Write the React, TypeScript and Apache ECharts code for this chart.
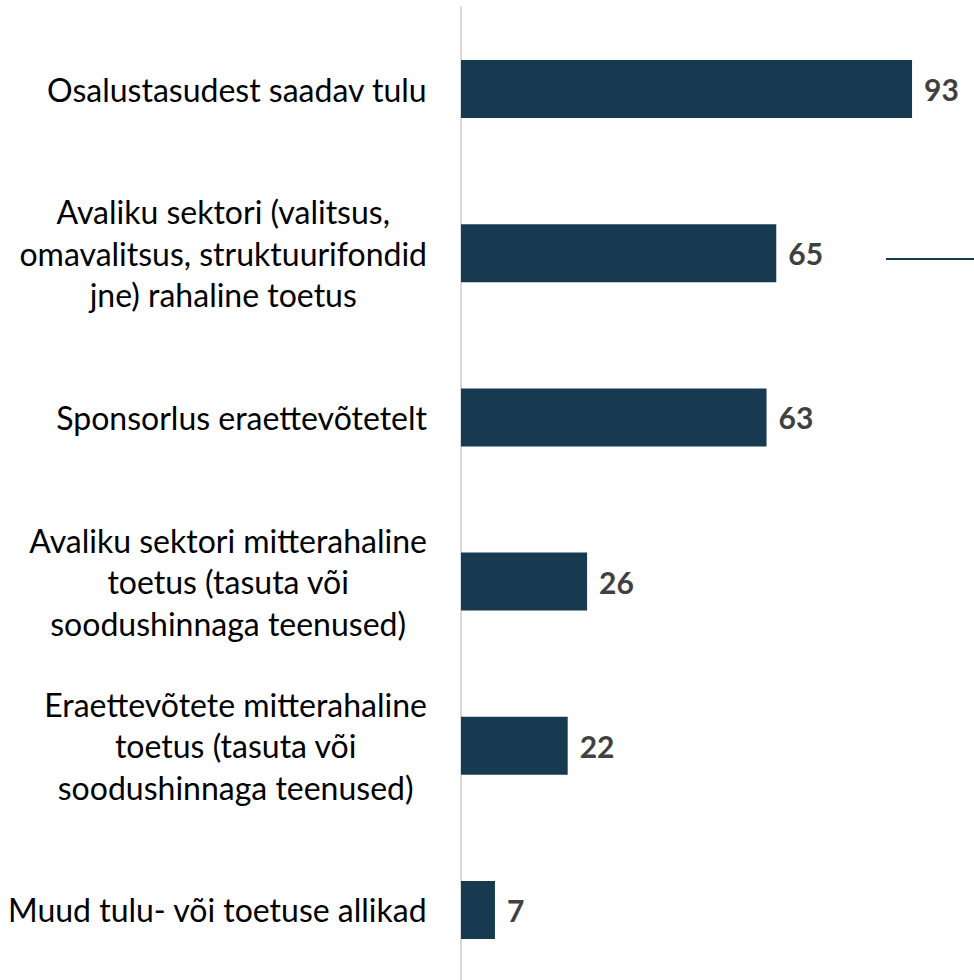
import React, { useEffect, useRef } from "react";
import * as echarts from "echarts";

const categories: string[] = [
  "Osalustasudest saadav tulu",
  "Avaliku sektori (valitsus,\nomavalitsus, struktuurifondid\njne) rahaline toetus",
  "Sponsorlus eraettevõtetelt",
  "Avaliku sektori mitterahaline\ntoetus (tasuta või\nsoodushinnaga teenused)",
  "Eraettevõtete mitterahaline\ntoetus (tasuta või\nsoodushinnaga teenused)",
  "Muud tulu- või toetuse allikad",
];
const values: number[] = [93, 65, 63, 26, 22, 7];

const FONT = "Lato, 'Liberation Sans', Arial, sans-serif";

export default function App() {
  const ref = useRef<HTMLDivElement>(null);
  useEffect(() => {
    if (!ref.current) return;
    const chart = echarts.init(ref.current, undefined, { renderer: "svg" });
    chart.setOption({
      animation: false,
      grid: {
        left: 461,
        top: 7,
        width: 485,
        height: 985,
        containLabel: false,
        outerBoundsMode: "none",
      },
      xAxis: {
        type: "value",
        min: 0,
        max: 100,
        show: false,
      },
      yAxis: {
        type: "category",
        data: categories,
        inverse: true,
        axisLine: { show: true, lineStyle: { color: "#d9d9d9", width: 2 } },
        axisTick: { show: false },
        splitLine: { show: false },
        axisLabel: {
          margin: 34,
          align: "right",
          formatter: (v: string) =>
            v
              .split("\n")
              .map((l) => "{c|" + l + "}")
              .join("\n"),
          rich: {
            c: {
              fontSize: 32,
              fontFamily: FONT,
              color: "#000000",
              lineHeight: 41.5,
              align: "center",
            },
          },
        },
      },
      series: [
        {
          type: "bar",
          data: values,
          barWidth: 58,
          itemStyle: { color: "#183a51" },
          label: {
            show: true,
            position: "right",
            distance: 12,
            fontSize: 30,
            fontWeight: "bold",
            fontFamily: FONT,
            color: "#404040",
          },
        },
      ],
      graphic: [
        {
          type: "line",
          shape: { x1: 886, y1: 259, x2: 974, y2: 259 },
          style: { stroke: "#183a51", lineWidth: 2 },
        },
      ],
    });
    return () => chart.dispose();
  }, []);
  return (
    <div style={{ position: "absolute", left: 0, top: 0, width: 974, height: 980, overflow: "hidden" }}>
      <div ref={ref} style={{ width: 974, height: 1000 }} />
    </div>
  );
}
